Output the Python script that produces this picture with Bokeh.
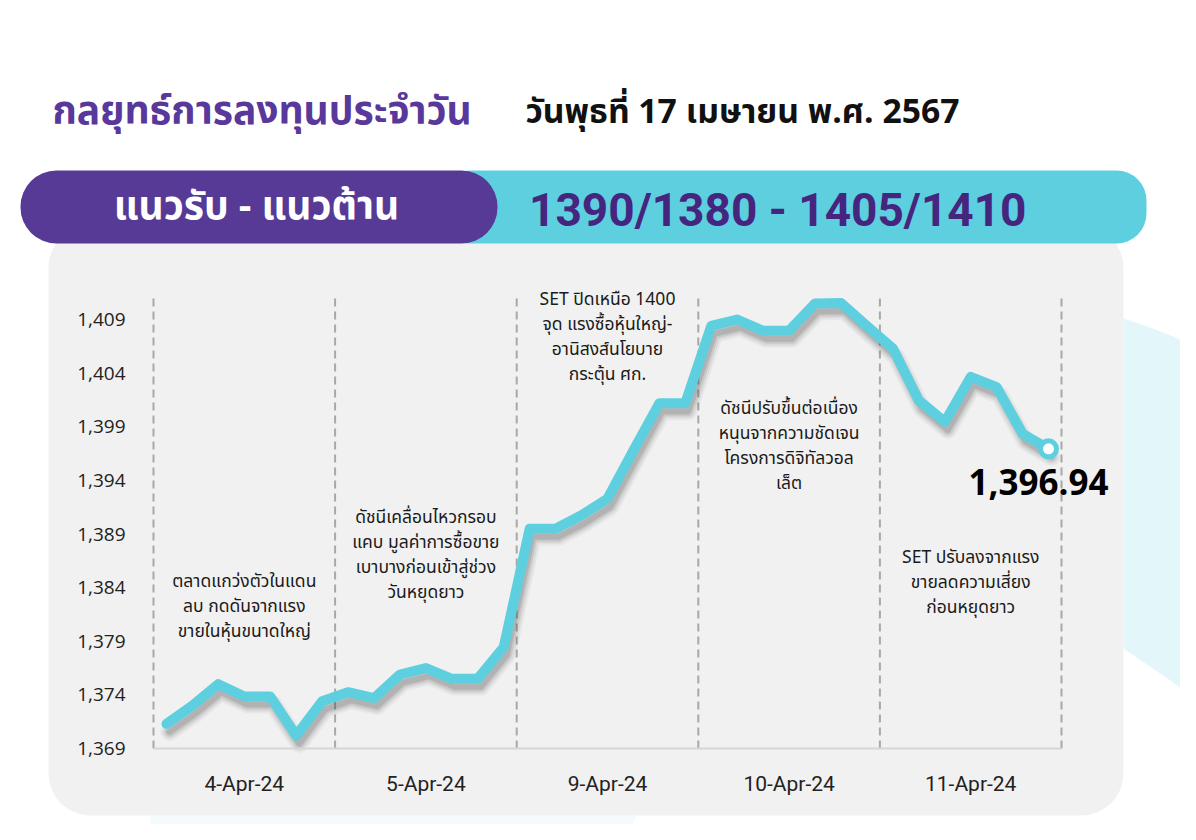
from bokeh.plotting import figure
from bokeh.models import Range1d, LinearAxis, FixedTicker, NumeralTickFormatter, BoxAnnotation
from bokeh.core.properties import value
from bokeh.embed import file_html
from bokeh.resources import INLINE

# ---------------- data ----------------
days = ["4-Apr-24", "5-Apr-24", "9-Apr-24", "10-Apr-24", "11-Apr-24"]
points_per_day = 7
set_index = [1371.3, 1373.0, 1375.0, 1373.85, 1373.85, 1370.2, 1373.4,
             1374.25, 1373.7, 1375.9, 1376.5, 1375.5, 1375.5, 1378.45,
             1389.5, 1389.5, 1390.75, 1392.3, 1396.8, 1401.2, 1401.2,
             1408.4, 1409.0, 1407.95, 1407.95, 1410.5, 1410.55, 1408.4,
             1406.3, 1401.45, 1399.45, 1403.65, 1402.7, 1398.35, 1396.94]
y_ticks = [1369, 1374, 1379, 1384, 1389, 1394, 1399, 1404, 1409]

title_text = "กลยุทธ์การลงทุนประจำวัน"
date_text = "วันพุธที่ 17 เมษายน พ.ศ. 2567"
banner_label = "แนวรับ - แนวต้าน"
banner_levels = "1390/1380  - 1405/1410"

notes = [
    ["ตลาดแกว่งตัวในแดน", "ลบ กดดันจากแรง", "ขายในหุ้นขนาดใหญ่"],
    ["ดัชนีเคลื่อนไหวกรอบ", "แคบ มูลค่าการซื้อขาย", "เบาบางก่อนเข้าสู่ช่วง", "วันหยุดยาว"],
    ["SET ปิดเหนือ 1400", "จุด แรงซื้อหุ้นใหญ่-", "อานิสงส์นโยบาย", "กระตุ้น ศก."],
    ["ดัชนีปรับขึ้นต่อเนื่อง", "หนุนจากความชัดเจน", "โครงการดิจิทัลวอล", "เล็ต"],
    ["SET ปรับลงจากแรง", "ขายลดความเสี่ยง", "ก่อนหยุดยาว"],
]
note_level = [1384.6, 1390.5, 1410.9, 1400.7, 1386.8]

# ---------------- styles / layout ----------------
W, H = 1180, 824
THAI = "Noto Sans Thai, Noto Sans, sans-serif"
CYAN = "#5dcfdf"
PURPLE = "#563a96"
CARD = "#f1f1f1"

p = figure(width=W, height=H, x_range=Range1d(0, W), y_range=Range1d(H, 0),
           x_axis_type=None, y_axis_type=None, toolbar_location=None,
           output_backend="svg", min_border=0, outline_line_color=None,
           background_fill_color="white", border_fill_color="white")

n = len(set_index)
xs = list(range(n))
x_lo, x_hi = -0.5, n - 0.5
y_lo, y_hi = y_ticks[0], y_ticks[-1]
X0, X1 = 153, 1061
Y0, Y1 = 748, 319
sx = (X1 - X0) / (x_hi - x_lo)
sy = (Y0 - Y1) / (y_hi - y_lo)

def xrange_(shift=0.0):
    a = x_lo - (X0 + shift) / sx
    return Range1d(a, a + W / sx)

def yrange_(shift=0.0):
    a = y_lo - (H - Y0 - shift) / sy
    return Range1d(a, a + H / sy)

p.extra_x_ranges = {"dx": xrange_(), "sdx": xrange_(3)}
p.extra_y_ranges = {"dy": yrange_(), "sdy": yrange_(8)}

# ---------------- decorations ----------------
p.patch([1123, 1150, 1175, 1200, 1200, 1170, 1123],
        [318, 327, 337, 348, 702, 680, 648],
        fill_color="#e3f6f9", line_color=None, level="underlay")
p.patch([150, 636, 622, 150], [815, 815, 845, 845],
        fill_color="#f5fbfd", line_color=None, level="underlay")

p.add_layout(BoxAnnotation(left=48, right=1123, top=225, bottom=815,
                           fill_color=CARD, fill_alpha=1, line_color=None,
                           border_radius=42, level="underlay"))
p.add_layout(BoxAnnotation(left=440, right=1146, top=170, bottom=243,
                           fill_color=CYAN, fill_alpha=1, line_color=None,
                           border_radius=30, level="underlay"))
p.add_layout(BoxAnnotation(left=20, right=497, top=170, bottom=243,
                           fill_color=PURPLE, fill_alpha=1, line_color=None,
                           border_radius=36, level="underlay"))

p.text(x=[52], y=[112], text=[title_text], text_font=value(THAI),
       text_font_size="39px", text_font_style="bold", text_color="#58389a",
       text_align="left", text_baseline="middle")
p.text(x=[525], y=[112], text=[date_text], text_font=value(THAI),
       text_font_size="33.7px", text_font_style="bold", text_color="#111111",
       text_align="left", text_baseline="middle")
p.text(x=[256], y=[207], text=[banner_label], text_font=value(THAI),
       text_font_size="39px", text_font_style="bold", text_color="white",
       text_align="center", text_baseline="middle")
p.text(x=[783], y=[209], text=[banner_levels], text_font=value("Roboto"),
       text_font_size="46px", text_font_style="bold", text_color="#46257f",
       text_align="center", text_baseline="middle")

# ---------------- chart ----------------
bounds = [x_lo + k * points_per_day for k in range(len(days) + 1)]
centers = [x_lo + (k + 0.5) * points_per_day for k in range(len(days))]
top_val = y_lo + (Y0 - 296) / sy

p.segment(x0=bounds, y0=[y_lo] * len(bounds), x1=bounds, y1=[top_val] * len(bounds),
          x_range_name="dx", y_range_name="dy", line_color="#a8a8a8",
          line_width=2, line_dash="8 5")

for w, a in [(18, 0.05), (14, 0.07), (10, 0.10), (6, 0.14)]:
    p.line(xs, set_index, x_range_name="sdx", y_range_name="sdy", line_color="#333333",
           line_alpha=a, line_width=w, line_join="round", line_cap="round")

p.line(xs, set_index, x_range_name="dx", y_range_name="dy", line_color=CYAN,
       line_width=10, line_join="round", line_cap="round")
p.scatter([xs[-1]], [set_index[-1]], x_range_name="dx", y_range_name="dy",
          size=16, fill_color="white", line_color=CYAN, line_width=5)
p.text(x=[xs[-1]], y=[set_index[-1]], text=[f"{set_index[-1]:,.2f}"],
       x_range_name="dx", y_range_name="dy", x_offset=-10, y_offset=33,
       text_font=value("Open Sans"), text_font_size="35px", text_font_style="bold",
       text_color="black", text_align="center", text_baseline="middle")

nx, ny, nt, no = [], [], [], []
for k, lines in enumerate(notes):
    for j, t in enumerate(lines):
        nx.append(centers[k])
        ny.append(note_level[k])
        nt.append(t)
        no.append(j * 25)
p.text(x=nx, y=ny, text=nt, y_offset=no, x_range_name="dx", y_range_name="dy",
       text_font=value(THAI), text_font_size="17.5px", text_color="#1a1a1a",
       text_align="center", text_baseline="middle")

yaxis = LinearAxis(x_range_name="dx", y_range_name="dy", fixed_location=x_lo,
                   ticker=FixedTicker(ticks=y_ticks),
                   formatter=NumeralTickFormatter(format="0,0"),
                   axis_line_color=None, major_tick_line_color=None,
                   minor_tick_line_color=None, major_tick_in=0, major_tick_out=0,
                   major_label_standoff=28, major_label_text_font="Open Sans",
                   major_label_text_font_size="19px", major_label_text_color="#222222")
p.add_layout(yaxis, "left")

xaxis = LinearAxis(x_range_name="dx", y_range_name="dy", fixed_location=y_lo,
                   ticker=FixedTicker(ticks=centers),
                   major_label_overrides={c: d for c, d in zip(centers, days)},
                   bounds=(x_lo, x_hi), axis_line_color="#d6d6d6", axis_line_width=2,
                   major_tick_line_color=None, minor_tick_line_color=None,
                   major_tick_in=0, major_tick_out=0, major_label_standoff=23,
                   major_label_text_font="Roboto", major_label_text_font_size="21px",
                   major_label_text_color="#222222")
p.add_layout(xaxis, "below")

open("out.html", "w").write(file_html(p, INLINE))
